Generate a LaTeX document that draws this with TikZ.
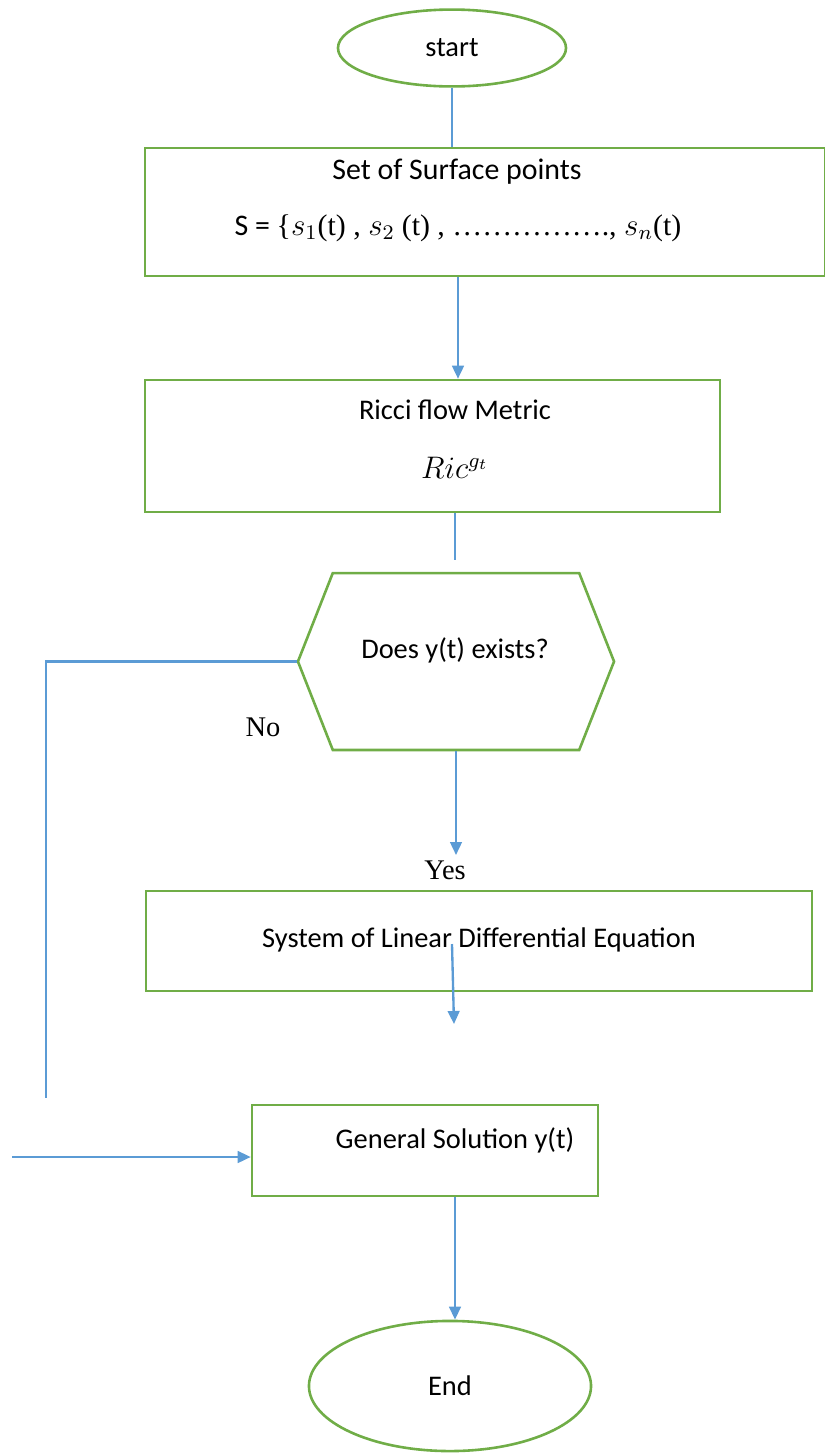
\documentclass[tikz,border=0pt,11pt]{standalone}
\usepackage{fontspec}
\setmainfont{Carlito}
\newfontfamily\timesfont{Liberation Serif}
\usetikzlibrary{arrows.meta, shapes.geometric, shapes.symbols}
\definecolor{boxgreen}{HTML}{70AD47}
\definecolor{lineblue}{HTML}{5B9BD5}

\begin{document}
\begin{tikzpicture}[x=0.385pt, y=-0.385pt,
        box/.style={draw=boxgreen, line width=1pt, rectangle, inner sep=0pt},
        oval/.style={draw=boxgreen, line width=1pt, ellipse, inner sep=0pt},
        hexa/.style={draw=boxgreen, line width=1pt, signal, signal to=west and east, signal pointer angle=137, inner sep=0pt},
        link/.style={draw=lineblue, line width=0.9pt},
        flow/.style={link, -{Triangle[length=5pt, width=4.5pt]}}]
                        \useasboundingbox (0,0) rectangle (825,1456);

                        \node[oval, minimum width=87.8pt, minimum height=29.6pt] (start) at (452,48) {start};
                        \node[box, minimum width=261.8pt, minimum height=49.3pt] (surface) at (485,212) {};
                        \node[font=\fontsize{11.5}{14}\selectfont] (surfacetop) at (457,172) {Set of Surface points};
                        \node[font=\fontsize{11.5}{14}\selectfont] (surfacebot) at (458,228) {S = {\timesfont\{}$s_1${\timesfont(t) , }$s_2$ {\timesfont(t) , \ldots\ldots\ldots\ldots\ldots., }$s_n${\timesfont(t)}};
                        \node[box, minimum width=221.4pt, minimum height=50.8pt] (ricci) at (432.5,446) {};
                        \node (riccitop) at (455,410) {Ricci flow Metric};
                        \node[font=\large] (riccibot) at (455,468) {$Ric^{g_t}$};
                        \node[hexa, minimum width=121.7pt, minimum height=68.1pt] (ask) at (456,661.5) {};
                        \node (asktext) at (455,650) {Does y(t) exists?};
                        \node (no) at (263,727) {\timesfont No};
                        \node (yes) at (445,870) {\timesfont Yes};
                        \node[box, minimum width=256.4pt, minimum height=38.5pt] (eqn) at (479,941) {};
                        \node (eqntext) at (479,940) {System of Linear Differential Equation};
                        \node[box, minimum width=133.2pt, minimum height=35pt] (solution) at (425,1150.5) {};
                        \node (soltext) at (455,1140) {General Solution y(t)};
                        \node[oval, minimum width=108.6pt, minimum height=50.1pt] (finish) at (450,1386) {End};

                        \coordinate (askin) at (455,560);
                        \coordinate (yestip) at (456,855);
                        \coordinate (nocorner) at (46,661.5);
                        \coordinate (noend) at (46,1098);
                        \coordinate (eqnout) at (452,944);
                        \coordinate (eqnend) at (454,1024);
                        \coordinate (solin) at (12,1157);

                        \draw[link]
                        (start) -- (start |- surface.north)
                        (riccibot |- ricci.south) -- (askin)
                        (ask.west) -- (nocorner) -- (noend);

                        \draw[flow] (surfacebot |- surface.south) -- (surfacebot |- ricci.north);
                        \draw[flow] (ask.south) -- (yestip);
                        \draw[flow] (eqnout) -- (eqnend);
                        \draw[flow] (solin) -- (solin -| solution.west);
                        \draw[flow] (soltext |- solution.south) -- (soltext |- finish.north);
                    \end{tikzpicture}
\end{document}
